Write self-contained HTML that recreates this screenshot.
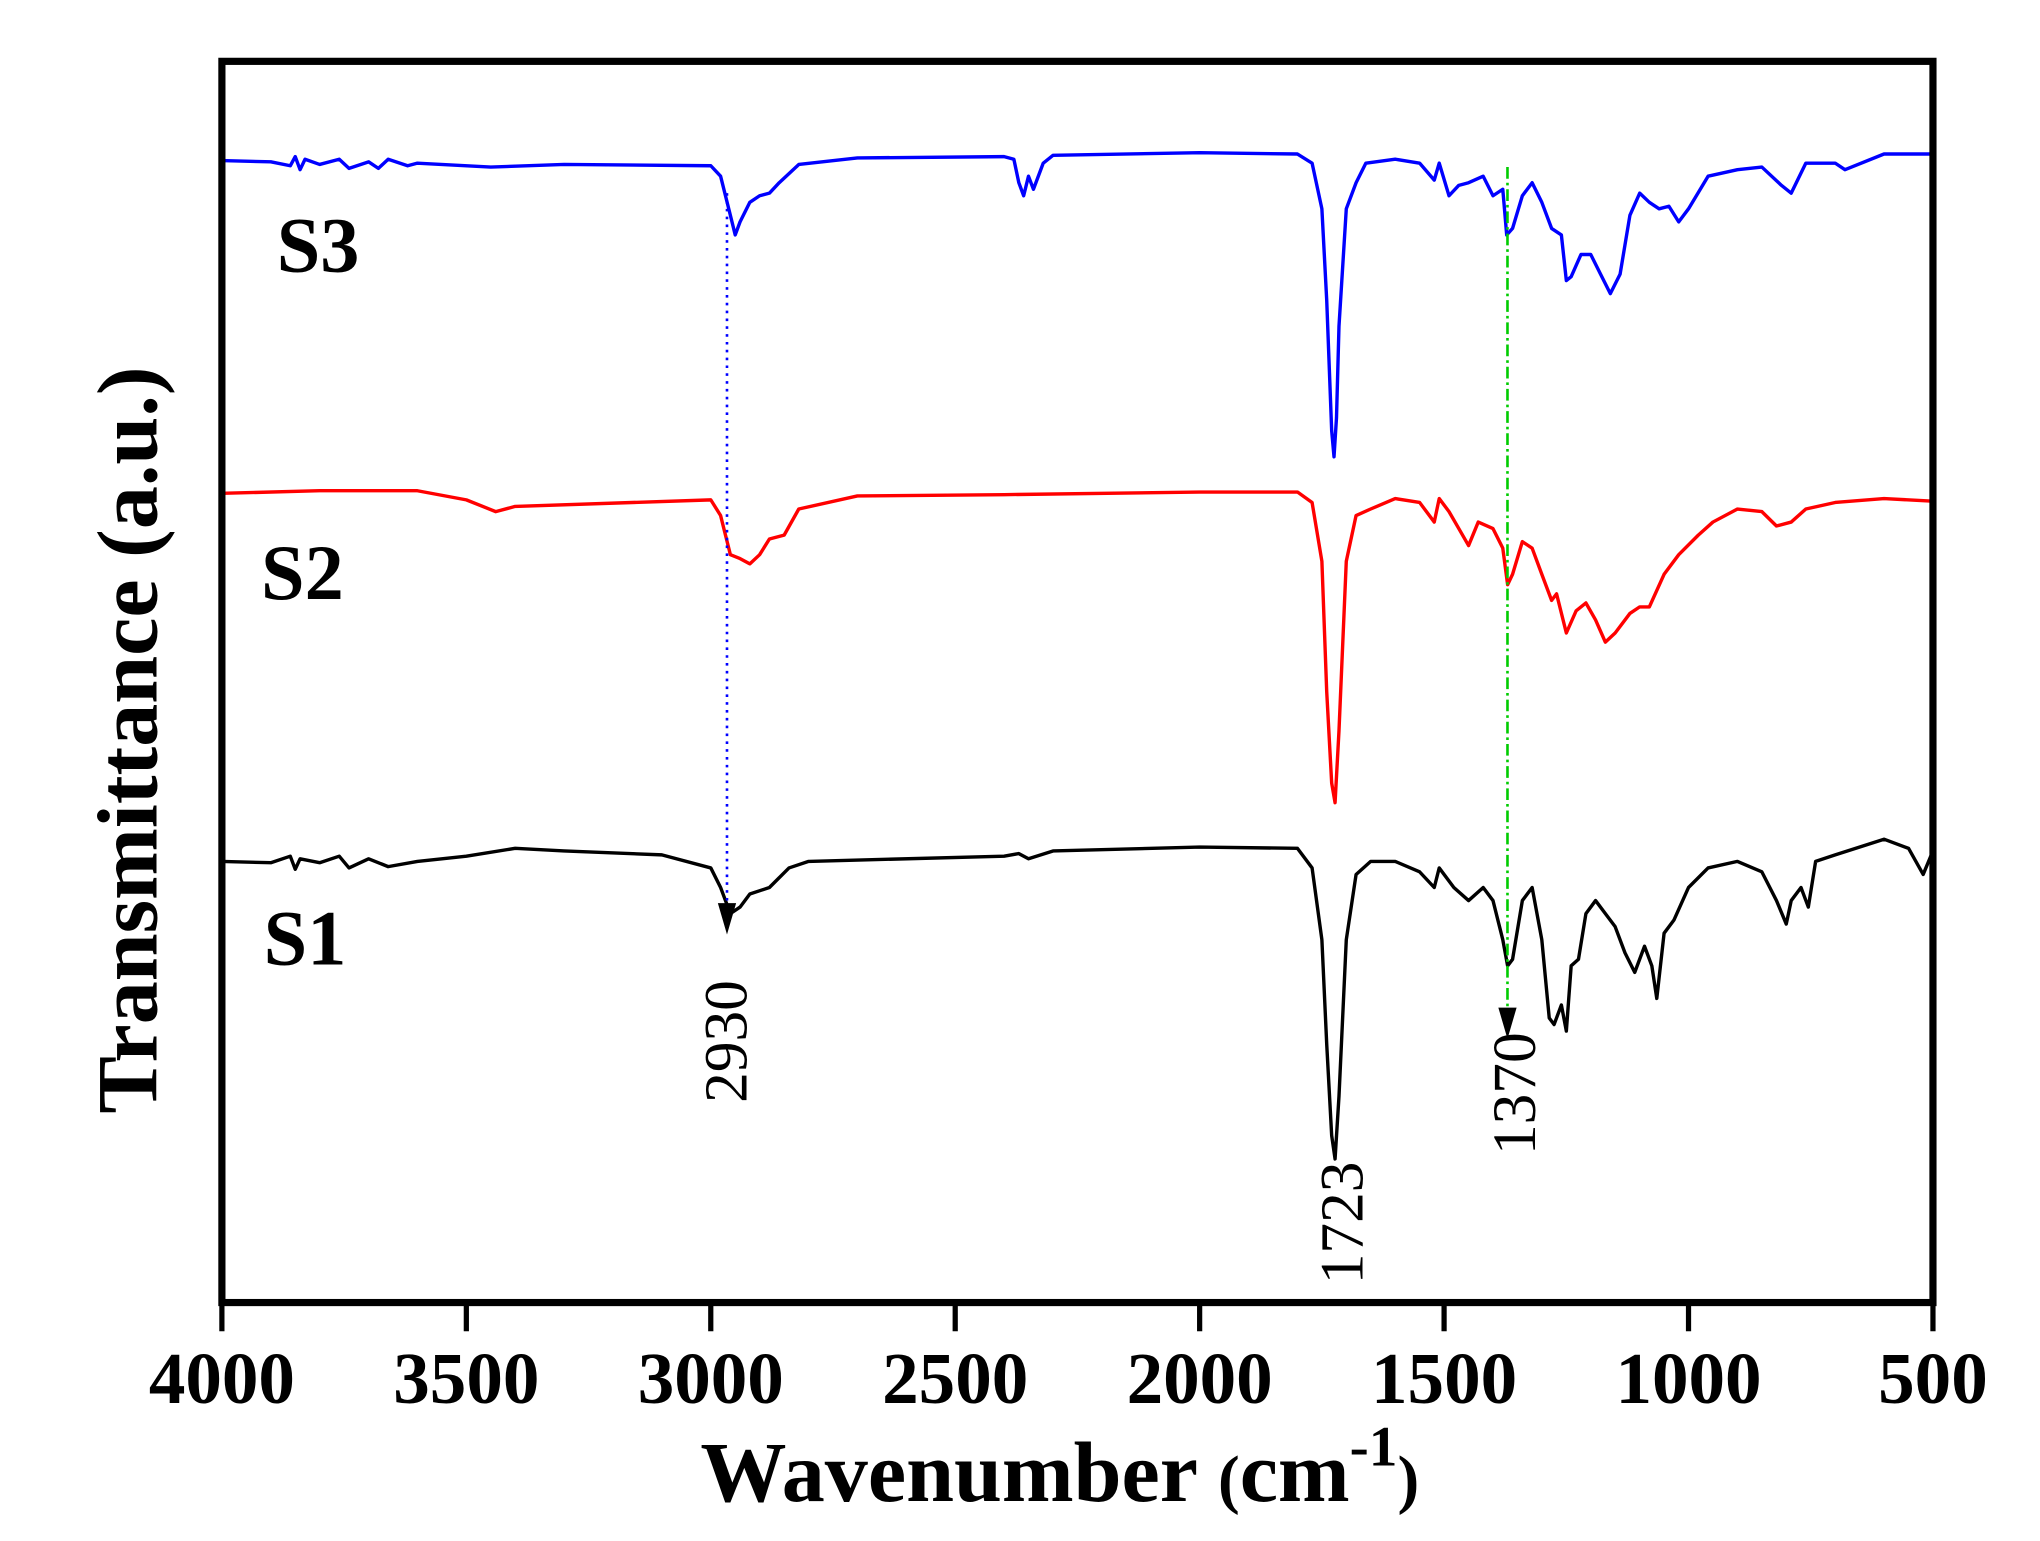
<!DOCTYPE html>
<html><head><meta charset="utf-8"><style>
html,body{margin:0;padding:0;background:#fff}
svg{display:block}
text{font-family:"Liberation Serif",serif}
</style></head><body>
<svg id="s" width="2040" height="1541" viewBox="0 0 1563 1180.7" xmlns="http://www.w3.org/2000/svg">
<rect width="1563" height="1181" fill="#fff"/>
<g id="traces" fill="none" stroke-width="2.6" stroke-linejoin="round"></g>
<line x1="557" y1="148" x2="557" y2="692" stroke="#0000ff" stroke-width="2" stroke-dasharray="2,4"/>
<polygon points="550,692 564,692 557,716" fill="#000"/>
<line x1="1155" y1="128" x2="1155" y2="772" stroke="#00cc00" stroke-width="2" stroke-dasharray="9,3,2,3"/>
<polygon points="1148,772 1162,772 1155,796" fill="#000"/>
<text transform="translate(572,798) rotate(-90)" font-size="47" text-anchor="middle">2930</text>
<text transform="translate(1044,937) rotate(-90)" font-size="47" text-anchor="middle">1723</text>
<text transform="translate(1176,838) rotate(-90)" font-size="47" text-anchor="middle">1370</text>
<text x="212" y="208" font-size="60" font-weight="bold">S3</text>
<text x="200" y="459" font-size="60" font-weight="bold">S2</text>
<text x="202" y="739" font-size="60" font-weight="bold">S1</text>
<rect x="170" y="47" width="1311" height="951" fill="none" stroke="#000" stroke-width="5.5"/>
<g id="ticks" stroke="#000" stroke-width="4"></g>
<g font-size="56" font-weight="bold" text-anchor="middle" id="tl"></g>
<text x="812" y="1150" font-size="66" font-weight="bold" text-anchor="middle">Wavenumber <tspan font-size="50">(</tspan>cm<tspan font-size="44" dy="-27">-1</tspan><tspan font-size="50" dy="27">)</tspan></text>
<text transform="translate(120,567) rotate(-90)" font-size="66" font-weight="bold" text-anchor="middle">Transmittance (a.u.)</text>
</svg>
<script>
function X(w){return 170+(4000-w)/3500*1311;}
var S3=[4000,123,3900,124,3860,127,3850,120,3840,130,3830,122,3800,126,3760,122,3740,129,3700,124,3680,129,3660,122,3620,127,3600,125,3450,128,3300,126,3000,127,2980,135,2960,165,2950,180,2940,170,2920,155,2900,150,2880,148,2860,140,2820,126,2700,121,2400,120,2380,122,2370,140,2360,150,2350,135,2340,145,2320,125,2300,119,2000,117,1800,118,1770,125,1750,160,1740,230,1730,330,1725,350,1720,320,1715,250,1700,160,1680,140,1660,125,1600,122,1550,125,1520,138,1510,125,1490,150,1470,142,1450,140,1420,135,1400,150,1380,145,1372,180,1360,175,1340,150,1320,140,1300,155,1280,175,1260,180,1250,215,1240,212,1220,195,1200,195,1180,210,1160,225,1140,210,1120,165,1100,148,1080,155,1060,160,1040,158,1020,170,1000,160,960,135,900,130,850,128,810,142,790,148,760,125,700,125,680,130,600,118,500,118];
var S2=[4000,378,3800,376,3600,376,3500,383,3440,392,3400,388,3000,383,2980,395,2960,425,2940,428,2920,432,2900,425,2880,413,2850,410,2820,390,2700,380,2400,379,2000,377,1800,377,1770,385,1750,430,1740,530,1730,600,1723,615,1715,560,1700,430,1680,395,1650,390,1600,382,1550,385,1520,400,1510,382,1490,392,1470,405,1450,418,1430,400,1400,405,1380,420,1370,448,1360,440,1340,415,1320,420,1300,440,1280,460,1270,455,1250,485,1230,468,1210,462,1190,475,1170,492,1150,485,1120,470,1100,465,1080,465,1050,440,1020,425,980,410,950,400,900,390,850,392,820,403,790,400,760,390,700,385,600,382,500,384];
var S1=[4000,660,3900,661,3860,656,3850,666,3840,658,3800,661,3760,656,3740,665,3700,658,3660,664,3600,660,3500,656,3400,650,3300,652,3100,655,3000,665,2980,680,2960,700,2940,695,2920,685,2880,680,2840,665,2800,660,2400,656,2370,654,2350,658,2300,652,2000,649,1800,650,1770,665,1750,720,1740,800,1730,870,1723,888,1715,840,1700,720,1680,670,1650,660,1600,660,1550,668,1520,680,1510,665,1480,680,1450,690,1420,680,1400,690,1380,720,1370,740,1360,735,1340,690,1320,680,1300,720,1285,780,1275,785,1260,770,1250,790,1240,740,1225,735,1210,700,1190,690,1170,700,1150,710,1130,730,1110,745,1090,725,1075,740,1065,765,1050,715,1030,705,1000,680,960,665,900,660,850,668,820,690,800,708,790,690,770,680,755,695,740,660,700,655,600,643,550,650,520,670,500,652];
var g=document.getElementById('traces'),ns='http://www.w3.org/2000/svg';
[[S3,'#0000ff'],[S2,'#ff0000'],[S1,'#000']].forEach(function(a){var d=a[0],p=[];for(var i=0;i<d.length;i+=2)p.push(X(d[i]).toFixed(1)+','+d[i+1]);var e=document.createElementNS(ns,'polyline');e.setAttribute('points',p.join(' '));e.setAttribute('stroke',a[1]);g.appendChild(e);});
var t=document.getElementById('ticks'),tl=document.getElementById('tl');
for(var w=4000;w>=500;w-=500){var x=X(w),l=document.createElementNS(ns,'line');l.setAttribute('x1',x);l.setAttribute('x2',x);l.setAttribute('y1',998);l.setAttribute('y2',1020);t.appendChild(l);
var tx=document.createElementNS(ns,'text');tx.setAttribute('x',x);tx.setAttribute('y',1075);tx.textContent=w;tl.appendChild(tx);}
</script>
</body></html>
